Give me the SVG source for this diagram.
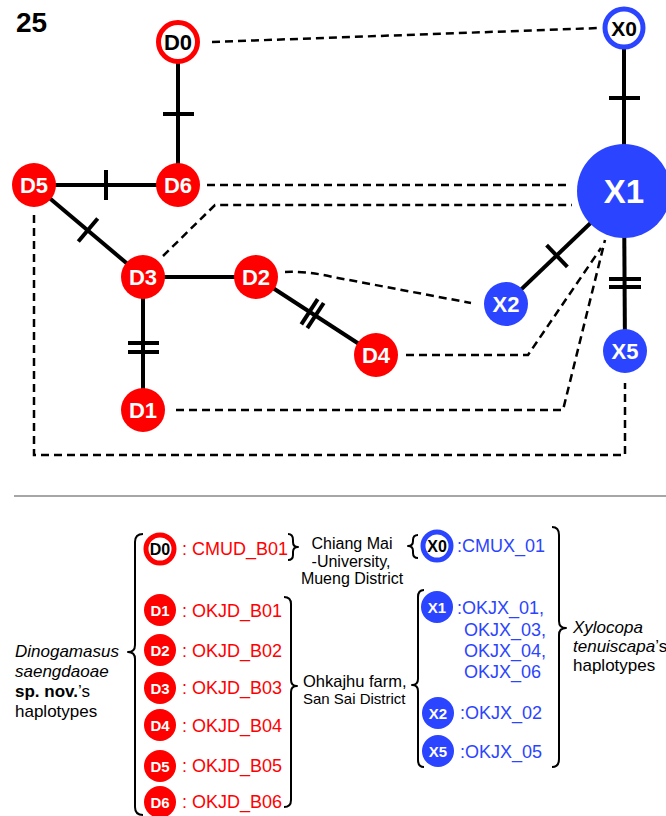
<svg xmlns="http://www.w3.org/2000/svg" width="666" height="816" viewBox="0 0 666 816">
<style>
.edge{stroke:#000;stroke-width:4;fill:none}
.tick{stroke:#000;stroke-width:4;fill:none}
.dash{stroke:#000;stroke-width:2.5;fill:none;stroke-dasharray:8,5}
.brace{stroke:#000;stroke-width:2;fill:none;stroke-linejoin:round}
.red{fill:#FF0000}
.blue{fill:#2B44FF}
.ringR{fill:#fff;stroke:#FF0000;stroke-width:5}
.ringB{fill:#fff;stroke:#2B44FF;stroke-width:5}
.lbl{font-family:"Liberation Sans",Arial,sans-serif;font-weight:bold;text-anchor:middle}
.w{fill:#fff}
.k{fill:#000}
.txt{font-family:"Liberation Sans",Arial,sans-serif;fill:#000}
.code{font-family:"Liberation Sans",Arial,sans-serif;font-size:18px}
.rt{fill:#FF0000}
.bt{fill:#2B44FF}
</style>
<rect width="666" height="816" fill="#fff"/>
<text x="16" y="32" class="txt" font-size="28" font-weight="bold">25</text>

<g id="connectors">
<line class="edge" x1="178" y1="42" x2="178" y2="185"/>
<line class="tick" x1="163" y1="114" x2="194" y2="114"/>
<line class="edge" x1="34" y1="185" x2="178" y2="185"/>
<line class="tick" x1="106" y1="170" x2="106" y2="200"/>
<line class="edge" x1="34" y1="185" x2="143" y2="277"/>
<line class="tick" x1="78.3" y1="241.5" x2="97.7" y2="218.5"/>
<line class="edge" x1="143" y1="277" x2="256" y2="277"/>
<line class="edge" x1="143" y1="277" x2="143" y2="410"/>
<line class="tick" x1="128" y1="343" x2="159" y2="343"/>
<line class="tick" x1="128" y1="352" x2="159" y2="352"/>
<line class="edge" x1="256" y1="277" x2="376" y2="355"/>
<line class="tick" x1="301.3" y1="324.4" x2="317.7" y2="299.2"/>
<line class="tick" x1="307.3" y1="328.2" x2="323.7" y2="303.0"/>
<line class="edge" x1="624" y1="28" x2="624" y2="191"/>
<line class="tick" x1="609" y1="98" x2="640" y2="98"/>
<line class="edge" x1="624" y1="191" x2="506" y2="304"/>
<line class="tick" x1="546.6" y1="245.2" x2="567.4" y2="266.8"/>
<line class="edge" x1="624" y1="191" x2="625" y2="351"/>
<line class="tick" x1="609" y1="279" x2="641" y2="279"/>
<line class="tick" x1="609" y1="287" x2="641" y2="287"/>

<path class="dash" d="M212,42 L600,28"/>
<path class="dash" d="M207,185 L570,185"/>
<path class="dash" d="M163,256 L215,205 L572,205"/>
<path class="dash" d="M285,272 Q308,271 333,277 L471,303"/>
<path class="dash" d="M406,355 L528,355 L601,248"/>
<path class="dash" d="M176,410 L563,410 L605,240"/>
<path class="dash" d="M34,215 L34,455 L625,455 L625,383"/>
</g>

<g id="D0"><circle class="ringR" cx="178" cy="42" r="19.5"/><text class="lbl k" x="178" y="50" font-size="22">D0</text></g>
<g id="D6"><circle class="red" cx="178" cy="185" r="22"/><text class="lbl w" x="178" y="193" font-size="22">D6</text></g>
<g id="D5"><circle class="red" cx="34" cy="185" r="22"/><text class="lbl w" x="34" y="193" font-size="22">D5</text></g>
<g id="D3"><circle class="red" cx="143" cy="277" r="22"/><text class="lbl w" x="143" y="285" font-size="22">D3</text></g>
<g id="D2"><circle class="red" cx="256" cy="277" r="22"/><text class="lbl w" x="256" y="285" font-size="22">D2</text></g>
<g id="D1"><circle class="red" cx="143" cy="410" r="22"/><text class="lbl w" x="143" y="418" font-size="22">D1</text></g>
<g id="D4"><circle class="red" cx="376" cy="355" r="22"/><text class="lbl w" x="376" y="363" font-size="22">D4</text></g>
<g id="X0"><circle class="ringB" cx="624" cy="28" r="19"/><text class="lbl k" x="624" y="35.5" font-size="21">X0</text></g>
<g id="X1"><circle class="blue" cx="624" cy="191" r="47"/><text class="lbl w" x="624" y="203" font-size="33">X1</text></g>
<g id="X2"><circle class="blue" cx="506" cy="304" r="22"/><text class="lbl w" x="506" y="312" font-size="22">X2</text></g>
<g id="X5"><circle class="blue" cx="625" cy="351" r="22"/><text class="lbl w" x="625" y="359" font-size="22">X5</text></g>

<line x1="14" y1="496" x2="666" y2="496" stroke="#888" stroke-width="1.5"/>

<g id="legend">
<path class="brace" d="M143,534 Q135,534 135,542 L135,645 Q135,652 128,652 Q135,652 135,659 L135,807 Q135,815 143,815"/>
<path class="brace" d="M288,534 Q293,534 293,540 L293,542 Q293,547 298,547 Q293,547 293,552 L293,555 Q293,560 288,560"/>
<path class="brace" d="M284,597 Q291,597 291,604 L291,680 Q291,686 297,686 Q291,686 291,692 L291,800 Q291,807 284,807"/>
<path class="brace" d="M418,535 Q413,535 413,540 L413,541 Q413,546 408,546 Q413,546 413,551 L413,553 Q413,558 418,558"/>
<path class="brace" d="M424,590 Q418,590 418,597 L418,679 Q418,685 412,685 Q418,685 418,691 L418,760 Q418,767 424,767"/>
<path class="brace" d="M552,527 Q559,527 559,535 L559,621 Q559,628 566,628 Q559,628 559,635 L559,759 Q559,767 552,767"/>

<circle class="ringR" cx="160" cy="549" r="14"/><text class="lbl k" x="160" y="555" font-size="16">D0</text>
<text class="code rt" x="182" y="555">: CMUD_B01</text>
<circle class="red" cx="160" cy="610" r="16"/><text class="lbl w" x="160" y="615.5" font-size="15">D1</text>
<text class="code rt" x="182" y="617">: OKJD_B01</text>
<circle class="red" cx="160" cy="650" r="16"/><text class="lbl w" x="160" y="655.5" font-size="15">D2</text>
<text class="code rt" x="182" y="657">: OKJD_B02</text>
<circle class="red" cx="160" cy="688" r="16"/><text class="lbl w" x="160" y="693.5" font-size="15">D3</text>
<text class="code rt" x="182" y="694">: OKJD_B03</text>
<circle class="red" cx="160" cy="725" r="16"/><text class="lbl w" x="160" y="730.5" font-size="15">D4</text>
<text class="code rt" x="182" y="732">: OKJD_B04</text>
<circle class="red" cx="160" cy="766" r="16"/><text class="lbl w" x="160" y="771.5" font-size="15">D5</text>
<text class="code rt" x="182" y="772">: OKJD_B05</text>
<circle class="red" cx="160" cy="802" r="16"/><text class="lbl w" x="160" y="807.5" font-size="15">D6</text>
<text class="code rt" x="182" y="808">: OKJD_B06</text>

<circle class="ringB" cx="437" cy="546" r="14"/><text class="lbl k" x="437" y="552" font-size="16">X0</text>
<text class="code bt" x="457" y="552">:CMUX_01</text>
<circle class="blue" cx="437" cy="607" r="16"/><text class="lbl w" x="437" y="612.5" font-size="15">X1</text>
<text class="code bt" x="457" y="614">:OKJX_01,</text>
<text class="code bt" x="464" y="635.5">OKJX_03,</text>
<text class="code bt" x="464" y="657">OKJX_04,</text>
<text class="code bt" x="464" y="678">OKJX_06</text>
<circle class="blue" cx="438" cy="713" r="16"/><text class="lbl w" x="438" y="718.5" font-size="15">X2</text>
<text class="code bt" x="460" y="719">:OKJX_02</text>
<circle class="blue" cx="438" cy="751" r="16"/><text class="lbl w" x="438" y="756.5" font-size="15">X5</text>
<text class="code bt" x="460" y="758">:OKJX_05</text>

<text class="txt" x="352" y="549" font-size="16" text-anchor="middle">Chiang Mai</text>
<text class="txt" x="351" y="566.5" font-size="16" text-anchor="middle">-University,</text>
<text class="txt" x="352" y="584" font-size="16" text-anchor="middle">Mueng District</text>
<text class="txt" x="303" y="687" font-size="16.5">Ohkajhu farm,</text>
<text class="txt" x="303" y="704" font-size="15">San Sai District</text>
<text class="txt" x="15" y="657" font-size="17" font-style="italic">Dinogamasus</text>
<text class="txt" x="15" y="677" font-size="17" font-style="italic">saengdaoae</text>
<text class="txt" x="15" y="697" font-size="17"><tspan font-weight="bold">sp. nov.</tspan>’s</text>
<text class="txt" x="15" y="717" font-size="17">haplotypes</text>
<text class="txt" x="573" y="633" font-size="17" font-style="italic">Xylocopa</text>
<text class="txt" x="573" y="652" font-size="17"><tspan font-style="italic">tenuiscapa</tspan>’s</text>
<text class="txt" x="573" y="671" font-size="17">haplotypes</text>
</g>
</svg>
